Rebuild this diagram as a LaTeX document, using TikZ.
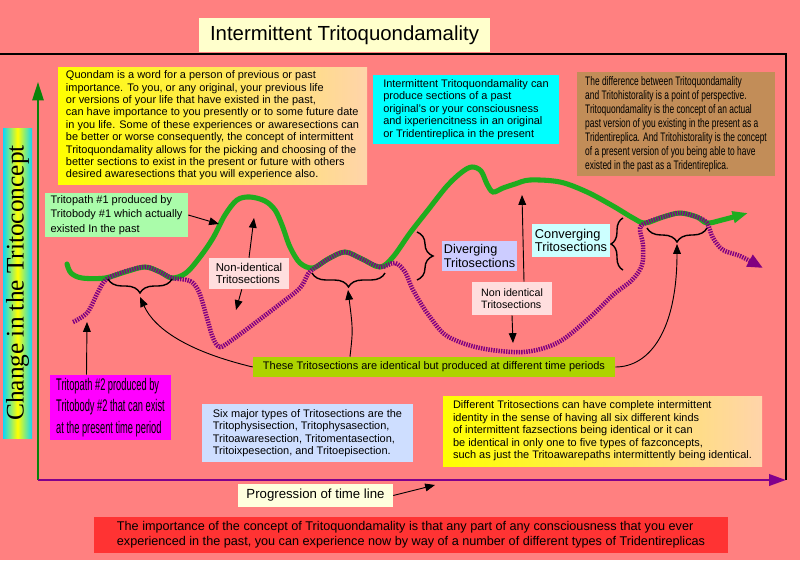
\documentclass[tikz,border=0pt]{standalone}
\usepackage{fontspec}
\setmainfont{Liberation Sans}
\newfontfamily\serifaxis{Liberation Serif}
\newfontfamily\narrowsans[FakeStretch=0.68]{Liberation Sans}
\newfontfamily\slimsans[FakeStretch=0.55]{Liberation Sans}
\usetikzlibrary{arrows.meta,decorations.pathreplacing}
\definecolor{bgpink}{RGB}{255,128,128}
\definecolor{titlecream}{RGB}{255,255,204}
\definecolor{peach}{RGB}{255,212,170}
\definecolor{tricyan}{RGB}{0,255,255}
\definecolor{tan}{RGB}{194,141,88}
\definecolor{mint}{RGB}{170,252,170}
\definecolor{blush}{RGB}{255,222,222}
\definecolor{lavender}{RGB}{204,204,255}
\definecolor{icecyan}{RGB}{204,255,255}
\definecolor{olive}{RGB}{173,211,0}
\definecolor{magenta}{RGB}{255,0,255}
\definecolor{periwinkle}{RGB}{206,222,255}
\definecolor{cream}{RGB}{255,255,222}
\definecolor{alarm}{RGB}{255,51,51}
\definecolor{pathgreen}{RGB}{30,172,30}
\definecolor{pathpurple}{RGB}{128,0,128}
\definecolor{axisgreen}{RGB}{10,130,10}
\definecolor{axispurple}{RGB}{130,0,140}
\definecolor{axiscyan}{RGB}{10,215,250}

\begin{document}
\begin{tikzpicture}[x=0.025cm, y=-0.025cm,
    box/.style={rectangle, inner sep=0pt, align=left},
    sz/.style 2 args={minimum width=#1*0.025cm, minimum height=#2*0.025cm},
    fs/.style 2 args={font=\fontsize{#1}{#2}\selectfont},
    arr/.style={-{Triangle[length=7pt,width=5.5pt]}, line width=0.65pt},
    brc/.style={decorate, decoration={brace, amplitude=0.35cm}, line width=1pt},
    path1/.style={line width=3.6pt, pathgreen, line cap=round, -{Triangle[length=11pt,width=8pt]}},
    path2/.style={line width=3.2pt, pathpurple, dash pattern=on 1pt off 0.8pt, -{Triangle[length=11pt,width=9pt]}}]
    \path[use as bounding box, fill=bgpink] (0,0) rectangle (800,560);
    \coordinate (o) at (38,480);
    \coordinate (ytip) at (38,82);
    \coordinate (xtip) at (786,480);
    \coordinate (g1) at (219,224);
    \coordinate (u1) at (254,218);
    \coordinate (d1) at (236,310);
    \coordinate (u2) at (522,195);
    \coordinate (d2) at (513,343);
    \coordinate (s2) at (87,322);
    \coordinate (b1) at (140,297);
    \coordinate (b2) at (348,290);
    \coordinate (b3) at (677,244);
    \coordinate (tl) at (435,485);
    \draw[line width=1.4pt] (0,54) -- (786,54) -- (786,480);
    \draw[line width=1.3pt, axisgreen, -{Triangle[length=13pt,width=8pt]}] (o) -- (ytip);
    \draw[line width=2pt, axispurple, -{Triangle[length=12pt,width=8pt]}] (o) -- (xtip);
    \draw[path1] plot[smooth, tension=0.55] coordinates {(67,264) (71,273) (82,278) (105,278) (125,272)
       (145,267) (160,272) (172,278) (186,273) (200,257) (213,238) (225,215) (237,200) (250,197)
       (265,201) (275,210) (282,225) (290,247) (300,263) (313,268) (328,259) (345,252) (362,259)
       (380,267) (393,257) (410,233) (428,210) (447,186) (462,172) (472,167) (481,171) (487,184)
       (493,192) (503,188) (515,184) (530,180) (560,182) (587,192) (613,206) (633,218) (645,223)
       (663,217) (680,213) (697,217) (707,223) (722,220) (748,213)};
    \draw[path2] plot[smooth, tension=0.55] coordinates {(73,322) (87,313) (97,294) (103,283) (110,277)
       (130,270) (146,267) (160,272) (172,278) (190,281) (199,292) (207,318) (213,338) (220,347)
       (232,340) (255,323) (280,304) (300,288) (308,274) (316,267) (330,258) (345,252) (362,259)
       (380,267) (395,263) (405,272) (412,288) (420,302) (430,317) (447,336) (480,348) (523,352)
       (557,343) (587,320) (613,295) (632,280) (642,265) (643,245) (640,228) (648,222) (663,217)
       (680,213) (697,217) (707,223) (713,238) (723,250) (740,256) (763,268)};
    \draw[brc] (172,279) -- (108,279);
    \draw[brc] (385,273) -- (312,273);
    \draw[brc] (707,228) -- (647,228);
    \draw[brc, decoration={amplitude=0.4cm}] (417,232) -- (417,280);
    \draw[brc, decoration={amplitude=0.3cm}] (623,270) -- (623,218);
    \node[box, sz={291}{34}, fill=titlecream, fs={14.5}{17}] (ttl) at (344.5,35) {Intermittent Tritoquondamality};
    \node[box, sz={309}{117}, left color=yellow, right color=peach, fs={7.8}{8.8}] (q) at (212.5,125.5)
       {Quondam is a word for a person of previous or past\\
        importance. To you, or any original, your previous life\\
        or versions of your life that have existed in the past,\\
        can have importance to you presently or to some future date\\
        in you life. Some of these experiences or awaresections can\\
        be better or worse consequently, the concept of intermittent\\
        Tritoquondamality allows for the picking and choosing of the\\
        better sections to exist in the present or future with others\\
        desired awaresections that you will experience also.};
    \node[box, sz={186}{69}, fill=tricyan, fs={7.8}{8.9}] (itc) at (466,109.5)
       {Intermittent Tritoquondamality can\\
        produce sections of a past\\
        original's or your consciousness\\
        and ixperiencitness in an original\\
        or Tridentireplica in the present};
    \node[box, sz={198}{104}, fill=tan, font=\narrowsans\fontsize{8.8}{10}\selectfont] (diff) at (676,124)
       {The difference between Tritoquondamality\\
        and Tritohistorality is a point of perspective.\\
        Tritoquondamality is the concept of an actual\\
        past version of you existing in the present as a\\
        Tridentireplica. And Tritohistorality is the concept\\
        of a present version of you being able to have\\
        existed in the past as a Tridentireplica.};
    \node[box, sz={143}{44}, fill=mint, fs={7.8}{10.4}] (tp1) at (116.5,215)
       {Tritopath \#1 produced by\\
        Tritobody \#1 which actually\\
        existed In the past};
    \node[box, sz={80}{31}, fill=blush, fs={8.1}{9}] (ni1) at (249,273.5) {Non-identical\\Tritosections};
    \node[box, sz={75}{30}, fill=lavender, fs={9}{9.5}] (div) at (479.5,256) {Diverging\\Tritosections};
    \node[box, sz={78}{33}, fill=icecyan, fs={9.1}{9.6}] (conv) at (571,240.5) {Converging\\Tritosections};
    \node[box, sz={80}{33}, fill=blush, fs={7.6}{8.3}] (ni2) at (512,298.5) {Non identical\\Tritosections};
    \node[box, sz={362}{20}, fill=olive, fs={7.8}{9}] (same) at (434,367)
       {These Tritosections are identical but produced at different time periods};
    \node[box, sz={121}{65}, fill=magenta, font=\slimsans\fontsize{12}{15.5}\selectfont] (tp2) at (110.5,407.5)
       {Tritopath \#2 produced by\\
        Tritobody \#2 that can exist\\
        at the present time period};
    \node[box, sz={211}{58}, fill=periwinkle, fs={7.8}{8.9}] (six) at (307.5,433)
       {Six major types of Tritosections are the\\
        Tritophysisection, Tritophysasection,\\
        Tritoawaresection, Tritomentasection,\\
        Tritoixpesection, and Tritoepisection.};
    \node[box, sz={319}{70}, left color=yellow, right color=peach, fs={7.8}{8.9}] (dtr) at (602.5,431)
       {Different Tritosections can have complete intermittent\\
        identity in the sense of having all six different kinds\\
        of intermittent fazsections being identical or it can\\
        be identical in only one to five types of fazconcepts,\\
        such as just the Tritoawarepaths intermittently being identical.};
    \node[box, sz={155}{23}, fill=cream, fs={9.4}{11}] (prog) at (315.5,495.5) {Progression of time line};
    \node[box, sz={634}{36}, fill=alarm, fs={9}{10.6}] (imp) at (411,535)
       {The importance of the concept of Tritoquondamality is that any part of any consciousness that you ever\\
        experienced in the past, you can experience now by way of a number of different types of Tridentireplicas};
    \node[box, sz={310}{29}, rotate=90, left color=axiscyan, right color=axiscyan, middle color=yellow,
       font=\serifaxis\fontsize{18}{20}\selectfont] (yl) at (17.5,283) {Change in the Tritoconcept};
    \draw[arr] (tp1.east) -- (g1);
    \draw[arr] (ni1.north) -- (u1);
    \draw[arr] ([xshift=-0.18cm]ni1.south) -- (d1);
    \draw[arr] ([xshift=0.3cm]ni2.north) -- (u2);
    \draw[arr] (ni2.south) -- (d2);
    \draw[arr] ([xshift=-0.6cm]tp2.north) -- (s2);
    \draw[arr] (prog.east) -- (tl);
    \draw[arr] (same.west) .. controls (190,352) and (155,330) .. (b1);
    \draw[arr] ([xshift=-2.1cm]same.north) .. controls (353,330) .. (b2);
    \draw[arr] (same.east) .. controls (650,367) and (677,330) .. (b3);
\end{tikzpicture}
\end{document}
